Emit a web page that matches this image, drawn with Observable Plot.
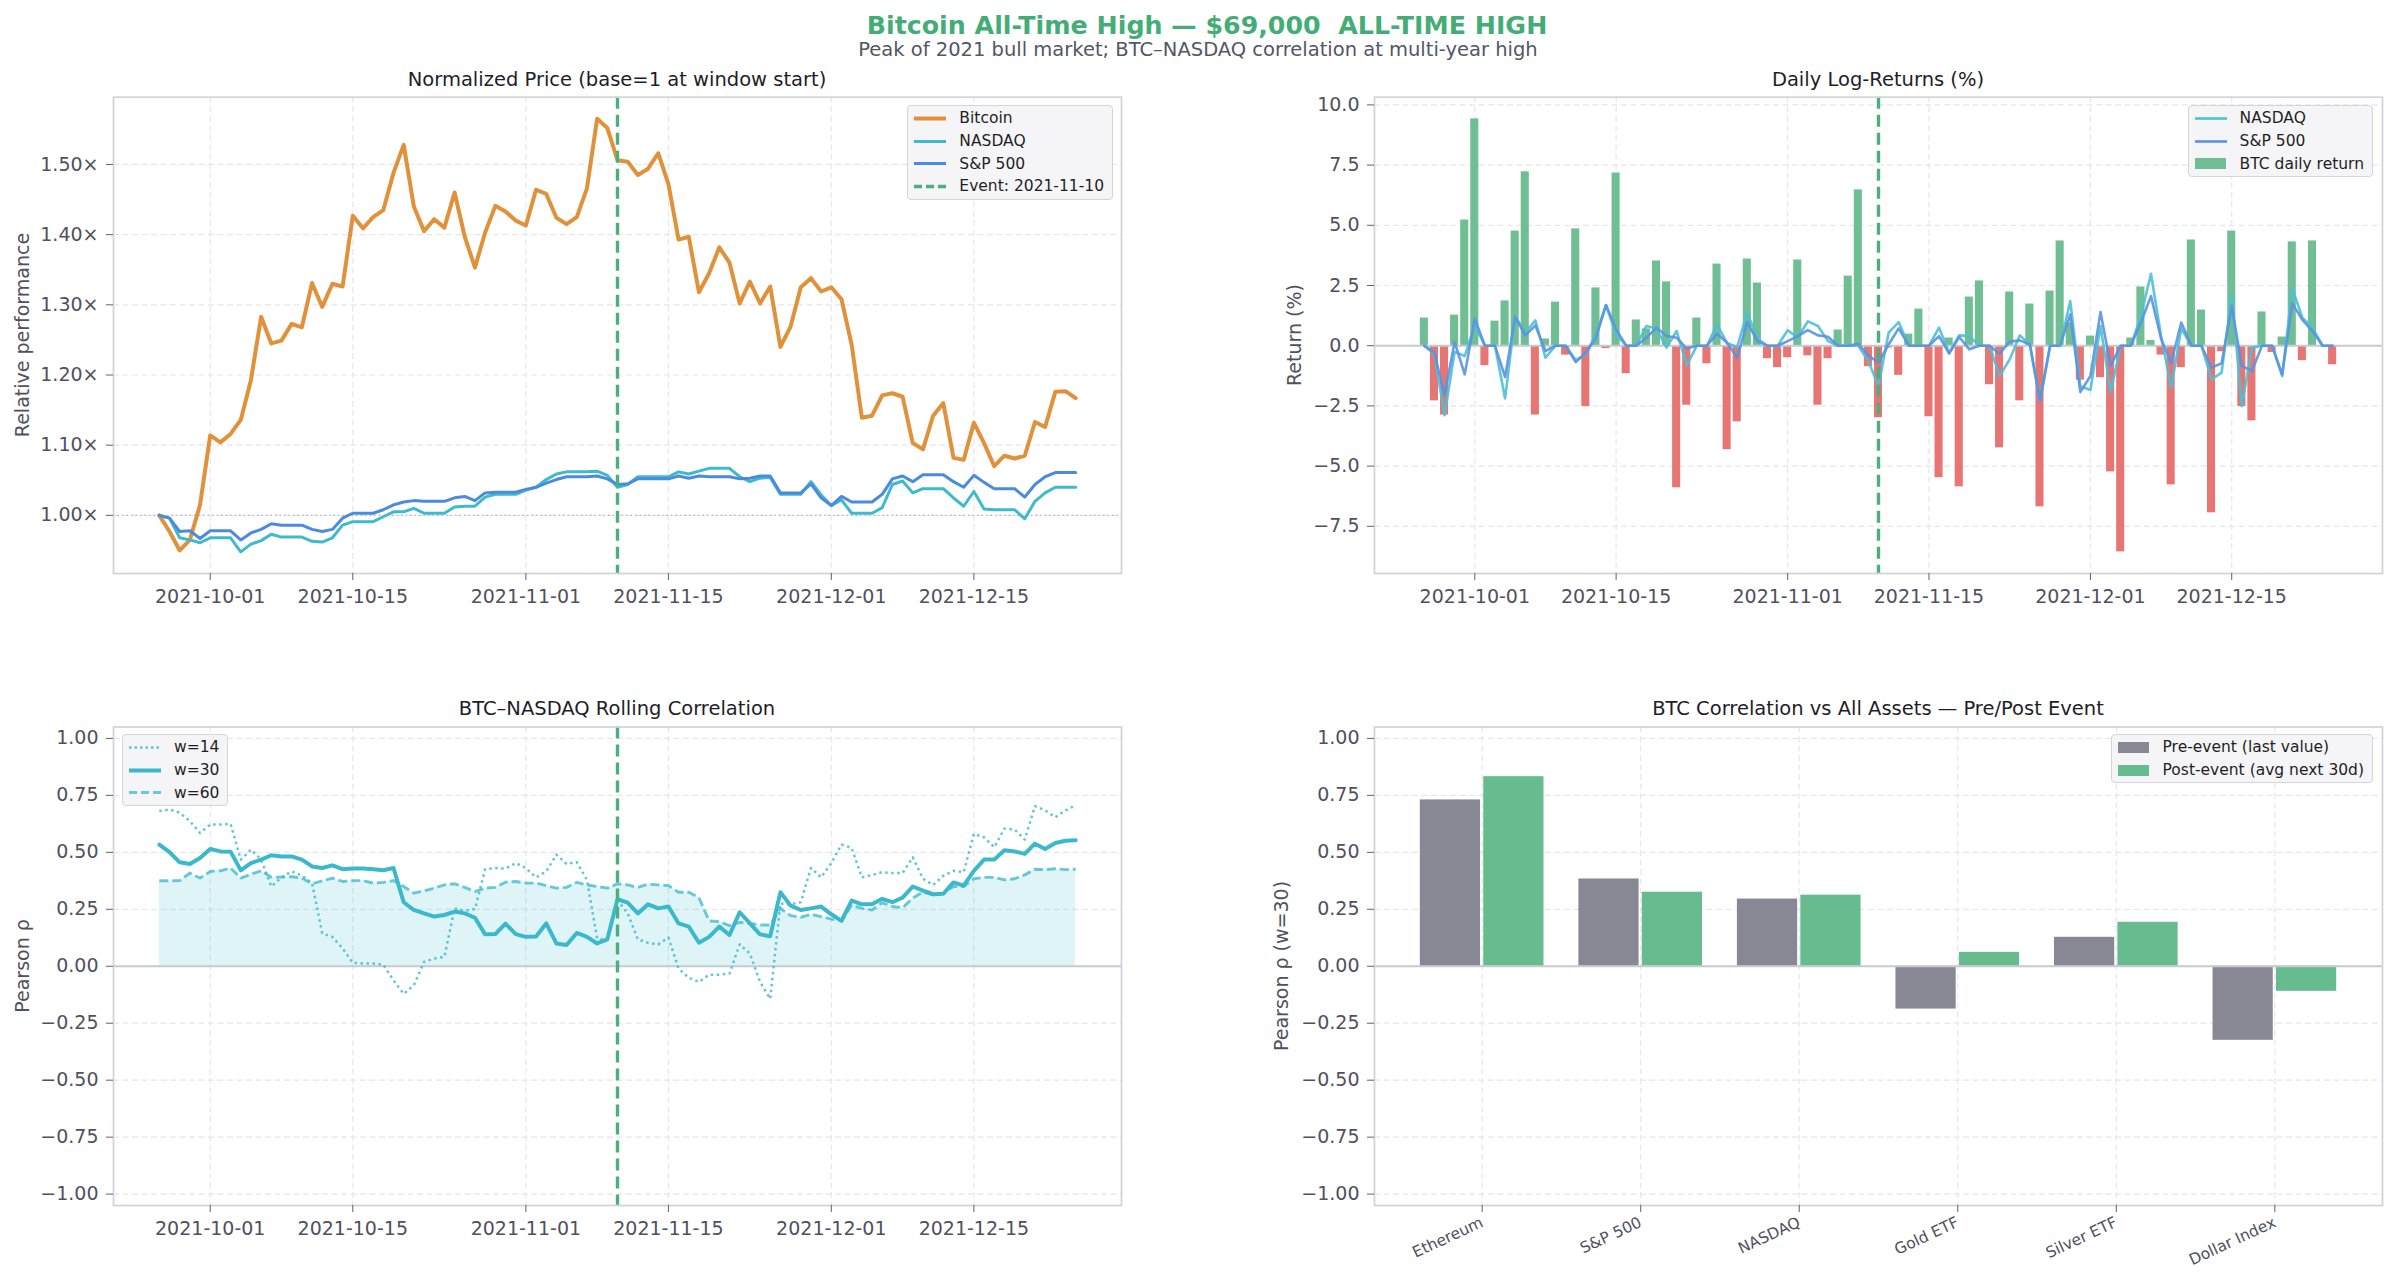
<!DOCTYPE html>
<html><head><meta charset="utf-8">
<script src="https://cdn.jsdelivr.net/npm/d3@7"></script>
<script src="https://cdn.jsdelivr.net/npm/@observablehq/plot@0.6"></script>
<style>
body{margin:0;background:#fff;}
#root{position:relative;width:2396px;height:1284px;overflow:hidden;font-family:"DejaVu Sans",sans-serif;background:#fff;}
.abs{position:absolute;white-space:nowrap;line-height:1;}
.ptitle{font-size:19.5px;color:#1e1e28;transform:translateX(-50%);}
.ylab{font-size:19px;color:#50505e;transform:translate(-50%,-50%) rotate(-90deg);}
.legend{position:absolute;background:rgba(244,244,247,0.95);border:1.5px solid #d4d4dc;border-radius:4px;font-size:15.5px;color:#1e1e28;padding:1px 8px 1px 5px;}
.legend .row{display:flex;align-items:center;height:22.7px;white-space:nowrap;}
.legend svg{margin-right:12px;flex:none;}
.chart{position:absolute;}
</style></head>
<body><div id="root"></div>
<script>
// ---------------- DATA ----------------
const startDate = "2021-09-26";
const eventDate = "2021-11-10";
const dateTicks = ["2021-10-01","2021-10-15","2021-11-01","2021-11-15","2021-12-01","2021-12-15"];

const btcPrice = [1.000,0.977,0.950,0.965,1.015,1.114,1.104,1.116,1.136,1.193,
  1.283,1.245,1.249,1.273,1.268,1.331,1.297,1.330,1.326,1.427,
  1.409,1.425,1.435,1.488,1.528,1.440,1.405,1.422,1.410,1.460,
  1.397,1.353,1.403,1.441,1.433,1.420,1.413,1.464,1.458,1.424,
  1.415,1.425,1.466,1.565,1.552,1.506,
  1.504,1.485,1.494,1.516,1.472,1.393,1.397,1.318,1.345,1.382,
  1.360,1.302,1.333,1.302,1.326,1.240,1.269,1.325,1.338,1.319,
  1.325,1.308,1.243,1.139,1.142,1.171,1.174,1.169,1.103,1.094,
  1.142,1.160,1.082,1.079,1.132,1.103,1.070,1.085,1.081,1.085,
  1.133,1.126,1.176,1.177,1.167];
const nasdaqPrice = [1.000,0.996,0.968,0.965,0.961,0.968,0.968,0.968,0.948,0.959,
  0.964,0.973,0.969,0.969,0.969,0.963,0.962,0.968,0.986,0.991,
  0.991,0.991,0.998,1.005,1.005,1.010,1.003,1.003,1.003,1.012,
  1.013,1.013,1.026,1.030,1.030,1.030,1.036,1.040,1.051,1.059,
  1.062,1.062,1.062,1.063,1.057,1.040,
  1.044,1.055,1.055,1.055,1.055,1.062,1.059,1.063,1.067,1.067,
  1.067,1.055,1.048,1.053,1.054,1.030,1.030,1.030,1.048,1.029,
  1.014,1.022,1.003,1.003,1.003,1.011,1.044,1.049,1.032,1.038,
  1.038,1.038,1.025,1.013,1.034,1.009,1.008,1.008,1.008,0.995,
  1.020,1.032,1.040,1.040,1.040];
const sp500Price = [1.000,0.996,0.977,0.978,0.967,0.978,0.978,0.978,0.965,0.975,
  0.980,0.988,0.986,0.986,0.986,0.980,0.977,0.980,0.996,1.003,
  1.003,1.003,1.008,1.015,1.019,1.021,1.020,1.020,1.020,1.025,
  1.027,1.021,1.032,1.033,1.033,1.033,1.037,1.040,1.046,1.051,
  1.055,1.055,1.055,1.056,1.052,1.044,
  1.045,1.052,1.052,1.052,1.052,1.056,1.053,1.056,1.055,1.055,
  1.055,1.052,1.053,1.056,1.056,1.032,1.032,1.032,1.045,1.025,
  1.014,1.027,1.019,1.019,1.019,1.030,1.052,1.056,1.048,1.058,
  1.058,1.058,1.048,1.040,1.057,1.047,1.038,1.038,1.038,1.026,
  1.044,1.055,1.061,1.061,1.061];

const btcReturn = [1.15,-2.29,-2.88,1.27,5.22,9.42,-0.83,1.02,1.86,4.76,
  7.22,-2.88,0.28,1.81,-0.39,4.85,-2.53,2.40,-0.12,7.17,
  -1.16,1.07,0.70,3.52,2.65,-5.90,-2.47,1.15,-0.75,3.39,
  -4.32,-3.16,3.60,2.60,-0.54,-0.91,-0.50,3.56,-0.42,-2.47,
  -0.54,0.65,2.89,6.47,-0.87,-2.99,
  -0.10,-1.23,0.48,1.52,-2.95,-5.48,0.32,-5.86,2.02,2.69,
  -1.62,-4.24,2.23,-2.29,1.73,-6.69,2.27,4.35,0.95,-1.43,
  0.40,-1.33,-5.24,-8.56,0.32,2.44,0.22,-0.39,-5.78,-0.91,
  4.39,1.48,-6.94,-0.25,4.76,-2.53,-3.12,1.40,-0.28,0.36,
  4.31,-0.62,4.35,0,-0.79];
const nasdaqReturn = [0,-0.36,-2.89,-0.26,-0.43,0.84,0,0,-2.19,1.23,
  0.54,1.05,-0.50,0,0,-0.60,-0.36,0.47,1.68,0.47,
  0,0,0.82,0.71,-0.08,0.61,-0.82,0,0,0.89,
  0.10,-0.05,1.37,0.29,0,0,0.64,0.33,1.01,0.82,
  0.19,0,0,0.00,-0.64,-1.68,
  0.54,0.98,0,0,0,0.75,-0.29,0.43,0.40,0,
  0,-1.26,-0.57,0.43,0.05,-2.30,0,0,1.86,-1.68,
  -1.84,0.82,-1.93,0,0,1.23,2.99,0.40,-1.75,0.71,
  0,0,-1.40,-1.12,2.11,-2.51,-0.08,0,0,-1.26,
  2.38,1.16,0.75,0,0];
const sp500Return = [0,-0.29,-2.06,0.15,-1.19,1.12,0,0,-1.30,1.20,
  0.43,0.84,-0.22,0,0,-0.68,-0.29,0.33,1.69,0.68,
  0,0,0.33,0.75,0.40,0.33,-0.12,0,0,0.50,
  0.12,-0.50,0.98,0.19,0,0,0.19,0.40,0.65,0.43,
  0.37,0,0,0.08,-0.40,-0.71,
  0.05,0.72,0,0,0,0.40,-0.33,0.36,-0.15,0,
  0,-0.33,0.17,0.22,0.05,-2.30,0,0,1.30,-1.93,
  -1.26,1.40,-0.84,0,0,0.96,2.06,0.29,-0.71,0.96,
  0,0,-0.91,-0.73,1.65,-0.84,-1.05,0,0,-1.19,
  1.76,1.07,0.61,0,0];

const corrW14 = [0.681,0.688,0.674,0.637,0.585,0.622,0.622,0.625,0.468,0.512,
  0.468,0.350,0.390,0.416,0.399,0.365,0.144,0.129,0.078,0.015,
  0.012,0.012,0.007,-0.062,-0.121,-0.084,0.019,0.034,0.041,0.254,
  0.243,0.251,0.426,0.431,0.428,0.453,0.431,0.390,0.416,0.490,
  0.449,0.457,0.379,0.122,0.115,0.291,
  0.232,0.118,0.103,0.096,0.126,-0.010,-0.051,-0.069,-0.037,-0.037,
  -0.032,0.096,0.056,-0.069,-0.143,0.276,0.272,0.281,0.431,0.390,
  0.453,0.534,0.519,0.390,0.401,0.413,0.409,0.409,0.478,0.384,
  0.357,0.397,0.419,0.413,0.581,0.566,0.522,0.604,0.600,0.556,
  0.703,0.684,0.654,0.684,0.707];
const corrW30 = [0.534,0.501,0.456,0.449,0.475,0.515,0.504,0.503,0.421,0.453,
  0.468,0.487,0.482,0.482,0.468,0.438,0.431,0.443,0.426,0.429,
  0.429,0.426,0.421,0.431,0.281,0.247,0.232,0.218,0.225,0.240,
  0.232,0.213,0.140,0.141,0.187,0.141,0.129,0.131,0.188,0.100,
  0.093,0.146,0.129,0.100,0.118,0.294,
  0.279,0.232,0.272,0.254,0.262,0.188,0.174,0.103,0.129,0.174,
  0.137,0.237,0.188,0.140,0.132,0.325,0.266,0.247,0.254,0.262,
  0.228,0.199,0.288,0.272,0.272,0.296,0.281,0.301,0.350,0.332,
  0.316,0.318,0.368,0.354,0.419,0.468,0.468,0.509,0.504,0.493,
  0.538,0.515,0.541,0.551,0.553];
const corrW60 = [0.375,0.375,0.376,0.409,0.387,0.416,0.419,0.431,0.387,0.404,
  0.419,0.391,0.391,0.393,0.387,0.362,0.375,0.387,0.372,0.376,
  0.376,0.365,0.368,0.376,0.350,0.321,0.331,0.343,0.357,0.362,
  0.346,0.328,0.343,0.346,0.369,0.372,0.365,0.365,0.354,0.343,
  0.346,0.368,0.357,0.350,0.343,0.362,
  0.357,0.346,0.360,0.357,0.354,0.325,0.325,0.301,0.199,0.196,
  0.178,0.193,0.188,0.181,0.181,0.254,0.222,0.215,0.228,0.218,
  0.207,0.200,0.269,0.254,0.247,0.279,0.262,0.257,0.299,0.325,
  0.313,0.321,0.350,0.350,0.384,0.390,0.390,0.379,0.384,0.401,
  0.426,0.424,0.428,0.424,0.426];

const assets = ["Ethereum","S&P 500","NASDAQ","Gold ETF","Silver ETF","Dollar Index"];
const corrPre  = [0.730,0.383,0.295,-0.188,0.127,-0.325];
const corrPost = [0.832,0.325,0.312,0.061,0.193,-0.110];

const priceTicks = [1.0,1.1,1.2,1.3,1.4,1.5];
const returnTicks = [-7.5,-5,-2.5,0,2.5,5,7.5,10];
const corrTicks = [-1,-0.75,-0.5,-0.25,0,0.25,0.5,0.75,1];

// ---------------- STYLE ----------------
const C = {
  btc:"#e1913a", nas:"#3dbacb", sp:"#4a8be0",
  nasR:"#4cc0d4", spR:"#5a92e0",
  pos:"#6fbe94", neg:"#e67573",
  ev:"#4caf7d", teal:"#3ab8cc",
  pre:"#888894", post:"#66bb8f",
  frame:"#d2d2da", grid:"#e6e6ec", zero:"#c9c9d2", tick:"#60606e", text:"#50505e"
};
const DAY = 864e5;
const root = document.getElementById("root");
const minus = s => s.replace(/-/g, "\u2212");

const start = new Date(startDate);
const dates = btcPrice.map((_, i) => new Date(+start + i * DAY));
const rows = dates.map((date, i) => ({
  date, btc: btcPrice[i], nas: nasdaqPrice[i], sp: sp500Price[i],
  btcR: btcReturn[i], nasR: nasdaqReturn[i], spR: sp500Return[i],
  w14: corrW14[i], w30: corrW30[i], w60: corrW60[i]
}));
const ev = new Date(eventDate);
const tickDates = dateTicks.map(s => new Date(s));
const pad = (lo, hi, f = 0.05) => [lo - (hi - lo) * f, hi + (hi - lo) * f];

const gridOpts = {stroke: C.grid, strokeOpacity: 1, strokeWidth: 1.2, strokeDasharray: "6,3.5"};
const frame = () => Plot.frame({stroke: C.frame, strokeWidth: 1.7});
const evRule = () => Plot.ruleX([ev], {stroke: C.ev, strokeWidth: 3.4, strokeDasharray: "12,6"});
const xDateAxis = () => Plot.axisX({ticks: tickDates, tickFormat: d3.utcFormat("%Y-%m-%d"), tickSize: 7, tickPadding: 9, stroke: C.tick, fill: C.text, label: null, fontSize: 19});
const style = {fontFamily: '"DejaVu Sans", sans-serif', fontSize: "19px", color: C.text, background: "transparent", overflow: "visible"};

function place(svg, left, top) {
  const d = document.createElement("div");
  d.className = "chart"; d.style.left = left + "px"; d.style.top = top + "px";
  d.appendChild(svg); root.appendChild(d);
}
function text(cls, str, left, top, extra = "") {
  const d = document.createElement("div");
  d.className = "abs " + cls; d.textContent = str;
  d.style.cssText += `left:${left}px;top:${top}px;${extra}`;
  root.appendChild(d);
}
function legend(items, pos) {
  const d = document.createElement("div");
  d.className = "legend";
  for (const k in pos) d.style[k] = pos[k] + "px";
  d.innerHTML = items.map(it => {
    const inner = it.kind === "rect"
      ? `<rect x="1" y="2" width="31" height="11" fill="${it.color}"/>`
      : `<line x1="1" y1="7.5" x2="33" y2="7.5" stroke="${it.color}" stroke-width="${it.w}" stroke-opacity="${it.op || 1}" ${it.dash ? `stroke-dasharray="${it.dash}"` : ""}/>`;
    return `<div class="row"><svg width="34" height="15">${inner}</svg><span>${it.label}</span></div>`;
  }).join("");
  root.appendChild(d);
}

// ---------------- HEADER ----------------
text("", "Bitcoin All-Time High \u2014 $69,000\u00a0\u00a0ALL-TIME HIGH", 1207, 12.6, "font-size:25.3px;font-weight:bold;color:#44ad77;transform:translateX(-50%);");
text("", "Peak of 2021 bull market; BTC\u2013NASDAQ correlation at multi-year high", 1198, 40.1, "font-size:19.5px;color:#555566;transform:translateX(-50%);");

// ---------------- PANEL 1: normalized price ----------------
{
  const all = [...btcPrice, ...nasdaqPrice, ...sp500Price];
  const xd = pad(+dates[0], +dates[dates.length - 1]).map(v => new Date(v));
  const svg = Plot.plot({
    width: 1180, height: 580, marginLeft: 113, marginRight: 59, marginTop: 36.7, marginBottom: 67, style,
    x: {type: "utc", domain: xd},
    y: {domain: pad(d3.min(all), d3.max(all))},
    marks: [
      Plot.gridX({ticks: tickDates, ...gridOpts}),
      Plot.gridY({ticks: priceTicks, ...gridOpts}),
      Plot.ruleY([1], {stroke: "#b4b4bc", strokeWidth: 1.4, strokeDasharray: "1.5,3"}),
      Plot.lineY(rows, {x: "date", y: "btc", stroke: C.btc, strokeWidth: 4}),
      Plot.lineY(rows, {x: "date", y: "nas", stroke: C.nas, strokeWidth: 3}),
      Plot.lineY(rows, {x: "date", y: "sp", stroke: C.sp, strokeWidth: 3}),
      evRule(),
      frame(),
      xDateAxis(),
      Plot.axisY({ticks: priceTicks, tickFormat: d => d.toFixed(2) + "\u00d7", tickSize: 7, tickPadding: 8, stroke: C.tick, fill: C.text, label: null, fontSize: 19})
    ]
  });
  place(svg, 0, 60);
  text("ptitle", "Normalized Price (base=1 at window start)", 617, 70);
  text("ylab", "Relative performance", 22, 335);
  legend([
    {label: "Bitcoin", color: C.btc, w: 4},
    {label: "NASDAQ", color: C.nas, w: 3},
    {label: "S&P 500", color: C.sp, w: 3},
    {label: "Event: " + eventDate, color: C.ev, w: 3.4, dash: "8,4"}
  ], {right: 2396 - 1113, top: 105});
}

// ---------------- PANEL 2: daily log-returns ----------------
{
  const all = [0, ...btcReturn, ...nasdaqReturn, ...sp500Return];
  const xd = pad(+dates[0] - 0.4 * DAY, +dates[dates.length - 1] + 0.4 * DAY).map(v => new Date(v));
  const rect = (data, color) => Plot.rectY(data, {
    x1: d => new Date(+d.date - 0.4 * DAY), x2: d => new Date(+d.date + 0.4 * DAY),
    y1: 0, y2: "btcR", fill: color
  });
  const svg = Plot.plot({
    width: 1196, height: 580, marginLeft: 174, marginRight: 14, marginTop: 36.7, marginBottom: 67, style,
    x: {type: "utc", domain: xd},
    y: {domain: pad(d3.min(all), d3.max(all))},
    marks: [
      Plot.gridX({ticks: tickDates, ...gridOpts}),
      Plot.gridY({ticks: returnTicks, ...gridOpts}),
      rect(rows.filter(d => d.btcR >= 0), C.pos),
      rect(rows.filter(d => d.btcR < 0), C.neg),
      Plot.ruleY([0], {stroke: C.zero, strokeWidth: 2}),
      Plot.lineY(rows, {x: "date", y: "nasR", stroke: C.nasR, strokeWidth: 2.6, strokeOpacity: 0.9}),
      Plot.lineY(rows, {x: "date", y: "spR", stroke: C.spR, strokeWidth: 2.6, strokeOpacity: 0.9}),
      evRule(),
      frame(),
      xDateAxis(),
      Plot.axisY({ticks: returnTicks, tickFormat: d => minus(d.toFixed(1)), tickSize: 7, tickPadding: 8, stroke: C.tick, fill: C.text, label: null, fontSize: 19})
    ]
  });
  place(svg, 1200, 60);
  text("ptitle", "Daily Log-Returns (%)", 1878, 70);
  text("ylab", "Return (%)", 1294, 335);
  legend([
    {label: "NASDAQ", color: C.nasR, w: 2.6},
    {label: "S&P 500", color: C.spR, w: 2.6},
    {label: "BTC daily return", color: C.pos, kind: "rect"}
  ], {right: 2396 - 2373, top: 105});
}

// ---------------- PANEL 3: rolling correlation ----------------
{
  const xd = pad(+dates[0], +dates[dates.length - 1]).map(v => new Date(v));
  const svg = Plot.plot({
    width: 1180, height: 580, marginLeft: 113, marginRight: 59, marginTop: 36.5, marginBottom: 65, style,
    x: {type: "utc", domain: xd},
    y: {domain: [-1.05, 1.05]},
    marks: [
      Plot.gridX({ticks: tickDates, ...gridOpts}),
      Plot.gridY({ticks: corrTicks, ...gridOpts}),
      Plot.areaY(rows, {x: "date", y1: 0, y2: "w60", fill: C.teal, fillOpacity: 0.16}),
      Plot.ruleY([0], {stroke: C.zero, strokeWidth: 2}),
      Plot.lineY(rows, {x: "date", y: "w14", stroke: C.teal, strokeWidth: 2.5, strokeOpacity: 0.8, strokeDasharray: "2.5,3.5", strokeLinecap: "butt"}),
      Plot.lineY(rows, {x: "date", y: "w30", stroke: C.teal, strokeWidth: 4}),
      Plot.lineY(rows, {x: "date", y: "w60", stroke: C.teal, strokeWidth: 2.9, strokeOpacity: 0.75, strokeDasharray: "9,4", strokeLinecap: "butt"}),
      evRule(),
      frame(),
      xDateAxis(),
      Plot.axisY({ticks: corrTicks, tickFormat: d => minus(d.toFixed(2)), tickSize: 7, tickPadding: 8, stroke: C.tick, fill: C.text, label: null, fontSize: 19})
    ]
  });
  place(svg, 0, 690);
  text("ptitle", "BTC\u2013NASDAQ Rolling Correlation", 617, 699);
  text("ylab", "Pearson \u03c1", 22, 966);
  legend([
    {label: "w=14", color: C.teal, w: 2.5, dash: "2.5,3", op: 0.8},
    {label: "w=30", color: C.teal, w: 4},
    {label: "w=60", color: C.teal, w: 2.9, dash: "8,4", op: 0.75}
  ], {left: 122, top: 734});
}

// ---------------- PANEL 4: correlation vs assets ----------------
{
  const cr = assets.map((a, i) => ({i, a, pre: corrPre[i], post: corrPost[i]}));
  const idx = cr.map(d => d.i);
  const svg = Plot.plot({
    width: 1196, height: 594, marginLeft: 174, marginRight: 14, marginTop: 36.5, marginBottom: 79, style,
    x: {type: "linear", domain: pad(-0.39, assets.length - 1 + 0.39)},
    y: {domain: [-1.05, 1.05]},
    marks: [
      Plot.gridX({ticks: idx, ...gridOpts}),
      Plot.gridY({ticks: corrTicks, ...gridOpts}),
      Plot.rectY(cr, {x1: d => d.i - 0.39, x2: d => d.i - 0.01, y1: 0, y2: "pre", fill: C.pre}),
      Plot.rectY(cr, {x1: d => d.i + 0.01, x2: d => d.i + 0.39, y1: 0, y2: "post", fill: C.post}),
      Plot.ruleY([0], {stroke: C.zero, strokeWidth: 2}),
      frame(),
      Plot.axisX({ticks: idx, tickFormat: i => assets[i], tickRotate: -25, tickSize: 7, tickPadding: 9, stroke: C.tick, fill: C.text, label: null, fontSize: 15.5}),
      Plot.axisY({ticks: corrTicks, tickFormat: d => minus(d.toFixed(2)), tickSize: 7, tickPadding: 8, stroke: C.tick, fill: C.text, label: null, fontSize: 19})
    ]
  });
  place(svg, 1200, 690);
  text("ptitle", "BTC Correlation vs All Assets \u2014 Pre/Post Event", 1878, 699);
  text("ylab", "Pearson \u03c1 (w=30)", 1281, 966);
  legend([
    {label: "Pre-event (last value)", color: C.pre, kind: "rect"},
    {label: "Post-event (avg next 30d)", color: C.post, kind: "rect"}
  ], {right: 2396 - 2373, top: 734});
}
</script></body></html>
